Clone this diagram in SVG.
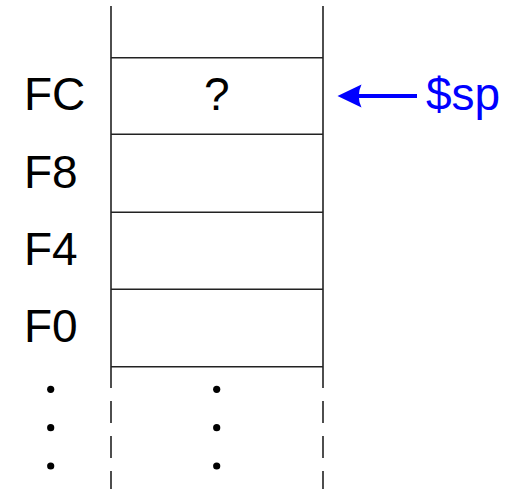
<svg xmlns="http://www.w3.org/2000/svg" width="512" height="489" viewBox="0 0 512 489">
<style>
.ln{stroke:#222;stroke-width:1.6;fill:none}
.dash{stroke:#222;stroke-width:1.6;fill:none;stroke-dasharray:22 13}
.lbl{font-family:"Liberation Sans",Arial,sans-serif;font-size:46px;fill:#000}
.dot{fill:#000}
</style>
<rect width="512" height="489" fill="#fff"/>
<g id="stack">
<path class="ln" d="M111 6V388M323 6V388"/>
<path class="dash" d="M111 401V489M323 401V489"/>
<path class="ln" d="M111 57.7H323M111 134.3H323M111 212.3H323M111 289.3H323M111 366.7H323"/>
</g>
<g id="cell-FC"><text class="lbl" x="24" y="110">FC</text><text class="lbl" x="216.7" y="110" text-anchor="middle">?</text></g>
<g id="cell-F8"><text class="lbl" x="24" y="188">F8</text></g>
<g id="cell-F4"><text class="lbl" x="24" y="265">F4</text></g>
<g id="cell-F0"><text class="lbl" x="24" y="342">F0</text></g>
<g id="dots">
<circle class="dot" cx="50.7" cy="389.3" r="3.6"/><circle class="dot" cx="50.7" cy="427.7" r="3.6"/><circle class="dot" cx="50.7" cy="466" r="3.6"/>
<circle class="dot" cx="216.7" cy="389.3" r="3.6"/><circle class="dot" cx="216.7" cy="427.7" r="3.6"/><circle class="dot" cx="216.7" cy="466" r="3.6"/>
</g>
<g id="sp"><text class="lbl" x="426" y="110" style="fill:#0000FF">$sp</text></g>
<g id="connectors">
<path d="M417 96H358" stroke="#0000FF" stroke-width="4" fill="none"/>
<path d="M337.5 96L361.5 84.5Q356 96 361.5 107.5Z" fill="#0000FF"/>
</g>
</svg>
